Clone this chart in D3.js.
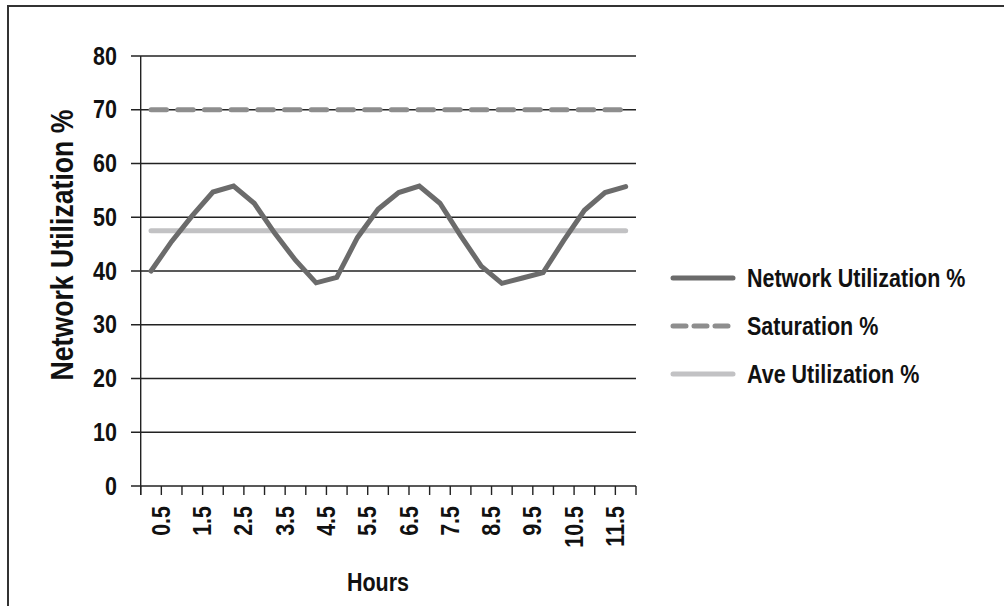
<!DOCTYPE html>
<html><head><meta charset="utf-8">
<script src="https://cdn.jsdelivr.net/npm/d3@7"></script>
<style>html,body{margin:0;padding:0;background:#fff;}svg{display:block;}</style>
</head><body>
<script>
const categories = ["0.5","1","1.5","2","2.5","3","3.5","4","4.5","5","5.5","6","6.5","7","7.5","8","8.5","9","9.5","10","10.5","11","11.5","12"];
const networkUtil = [40,45.5,50.3,54.7,55.8,52.6,47,42,37.8,38.8,46.2,51.5,54.6,55.8,52.6,46.6,40.9,37.7,38.7,39.7,45.7,51.3,54.6,55.7];
const saturation = categories.map(() => 70);
const aveUtil = categories.map(() => 47.5);
const yTicks = [0,10,20,30,40,50,60,70,80];
const seriesNames = ["Network Utilization %","Saturation %","Ave Utilization %"];

const W = 1004, H = 606;
const svg = d3.select("body").append("svg").attr("width", W).attr("height", H);
const FONT = "'Liberation Sans', Arial, sans-serif";
const SX = 0.86;

svg.append("rect").attr("x",8).attr("y",6).attr("width",1010).attr("height",620)
  .attr("fill","#fff").attr("stroke","#333").attr("stroke-width",2);

const x = d3.scaleBand().domain(categories).range([140.7, 636]).padding(0);
const y = d3.scaleLinear().domain([0,80]).range([486, 56]);

// gridlines
svg.append("g").selectAll("line").data(yTicks).join("line")
  .attr("x1",131).attr("x2",636).attr("y1",d=>y(d)).attr("y2",d=>y(d))
  .attr("stroke","#222").attr("stroke-width",1.4);
// y axis line
svg.append("line").attr("x1",140.7).attr("x2",140.7).attr("y1",y(80)).attr("y2",495)
  .attr("stroke","#222").attr("stroke-width",1.4);
// x ticks at band boundaries
const bounds = d3.range(categories.length+1).map(i => x.range()[0] + i*x.step());
svg.append("g").selectAll("line").data(bounds).join("line")
  .attr("x1",d=>d).attr("x2",d=>d).attr("y1",486).attr("y2",495)
  .attr("stroke","#222").attr("stroke-width",1.4);

function label(g, txt, tx, ty, rot, anchor, size, baseline) {
  return g.append("text").text(txt)
    .attr("transform", `translate(${tx},${ty}) rotate(${rot}) scale(${SX},1)`)
    .attr("text-anchor", anchor).attr("dominant-baseline", baseline||"central")
    .attr("font-family", FONT).attr("font-weight","bold").attr("font-size", size).attr("fill","#111");
}
// y tick labels
yTicks.forEach(t => label(svg, t, 117, y(t), 0, "end", 25));
// x labels: every other category
categories.forEach((c,i) => {
  if (i % 2 === 0) label(svg, c, x(c) + x.step(), 506, -90, "end", 25);
});
// axis titles
label(svg, "Network Utilization %", 62, 245, -90, "middle", 31);
label(svg, "Hours", 378, 582, 0, "middle", 25);

const px = d => x(d) + x.bandwidth()/2;
const line = d3.line().x((d,i)=>px(categories[i])).y(d=>y(d));

svg.append("path").datum(saturation).attr("d", line).attr("fill","none")
  .attr("stroke","#8e8e8e").attr("stroke-width",5).attr("stroke-linecap","round")
  .attr("stroke-dasharray","15.5,11.2");
svg.append("path").datum(aveUtil).attr("d", line).attr("fill","none")
  .attr("stroke","#c2c2c4").attr("stroke-width",5).attr("stroke-linecap","round");
svg.append("path").datum(networkUtil).attr("d", line).attr("fill","none")
  .attr("stroke","#6b6b6b").attr("stroke-width",5).attr("stroke-linecap","round").attr("stroke-linejoin","miter");

// legend
const legY = [278, 326, 374];
const legStyles = [
  {c:"#6b6b6b", dash:null},
  {c:"#8e8e8e", dash:"13,8"},
  {c:"#c2c2c4", dash:null}
];
seriesNames.forEach((n,i) => {
  const l = svg.append("line").attr("x1",673).attr("x2",733).attr("y1",legY[i]).attr("y2",legY[i])
    .attr("stroke",legStyles[i].c).attr("stroke-width",5).attr("stroke-linecap","round");
  if (legStyles[i].dash) l.attr("stroke-dasharray", legStyles[i].dash);
  label(svg, n, 747, legY[i], 0, "start", 25);
});
</script>
</body></html>
